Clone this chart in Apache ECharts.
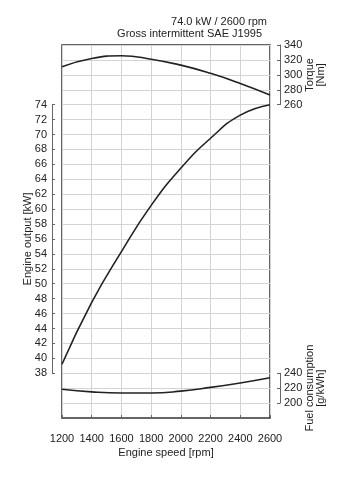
<!DOCTYPE html>
<html>
<head>
<meta charset="utf-8">
<script src="https://cdn.jsdelivr.net/npm/echarts@6/dist/echarts.min.js"></script>
<style>html,body{margin:0;padding:0;background:#fff;}#c{width:341px;height:478px;}</style>
</head>
<body>
<div id="c"></div>
<script>
var speeds = [1200, 1400, 1600, 1800, 2000, 2200, 2400, 2600];
var outputKW = [39.2, 47.5, 54.3, 60.5, 65.5, 69.5, 72.6, 74.0];
var torqueNm = [311, 322, 325.5, 321, 313, 302, 288.5, 273];
var fuelGkWh = [218.5, 215, 213.5, 213.5, 216, 221, 227, 234];
var titleLines = ['74.0 kW / 2600 rpm', 'Gross intermittent SAE J1995'];

var FONT = '"Liberation Sans", Arial, sans-serif';
var TXT = '#222';
var L = 62, T = 45, W = 208, H = 373;
var step = H / 25;

function pairs(vals) { return speeds.map(function (s, i) { return [s, vals[i]]; }); }
function hiddenX(gi) {
  return { type: 'value', gridIndex: gi, min: 1200, max: 2600, show: false };
}
function plain(v) { return String(v); }
var lineStyle = { color: '#222', width: 1.6 };

var option = {
  animation: false,
  backgroundColor: '#fff',
  textStyle: { fontFamily: FONT },
  graphic: [
    { type: 'text', right: 341 - 267, top: 16, style: { text: titleLines[0], font: '11px ' + FONT, fill: TXT, textAlign: 'right' } },
    { type: 'text', right: 341 - 262, top: 28, style: { text: titleLines[1], font: '11px ' + FONT, fill: TXT, textAlign: 'right' } }
  ],
  grid: [
    { left: L, top: T, width: W, height: H, show: true, borderColor: '#333', borderWidth: 1.5, backgroundColor: 'transparent' },
    { left: L, top: T + step * 4, width: W, height: step * 18 },
    { left: L, top: T, width: W, height: step * 4 },
    { left: L, top: T + step * 22, width: W, height: step * 2 }
  ],
  xAxis: [
    {
      type: 'value', gridIndex: 0, min: 1200, max: 2600, interval: 200, offset: 9,
      axisLine: { show: true, lineStyle: { color: '#666', width: 1 } },
      axisTick: { show: true, inside: true, length: 3, lineStyle: { color: '#666' } },
      axisLabel: { color: TXT, fontSize: 11, margin: 6, fontFamily: FONT, formatter: plain },
      splitLine: { show: true, lineStyle: { color: '#d4d4d4', width: 1 } },
      name: 'Engine speed [rpm]', nameLocation: 'middle', nameGap: 20, nameMoveOverlap: false,
      nameTextStyle: { color: TXT, fontSize: 11, fontFamily: FONT }
    },
    hiddenX(1), hiddenX(2), hiddenX(3)
  ],
  yAxis: [
    {
      type: 'value', gridIndex: 0, min: 0, max: 25, interval: 1,
      axisLine: { show: false }, axisTick: { show: false }, axisLabel: { show: false },
      splitLine: { show: true, lineStyle: { color: '#d4d4d4', width: 1 } }
    },
    {
      type: 'value', gridIndex: 1, min: 38, max: 74, interval: 2, position: 'left', offset: 10,
      axisLine: { show: true, lineStyle: { color: '#666', width: 1 } },
      axisTick: { show: true, inside: true, length: 3, lineStyle: { color: '#666' } },
      axisLabel: { color: TXT, fontSize: 11, margin: 5, fontFamily: FONT },
      splitLine: { show: false },
      name: 'Engine output [kW]', nameLocation: 'middle', nameGap: 19, nameMoveOverlap: false,
      nameTextStyle: { color: TXT, fontSize: 11, fontFamily: FONT }
    },
    {
      type: 'value', gridIndex: 2, min: 260, max: 340, interval: 20, position: 'right', offset: 10,
      axisLine: { show: true, lineStyle: { color: '#666', width: 1 } },
      axisTick: { show: true, inside: true, length: 3, lineStyle: { color: '#666' } },
      axisLabel: { color: TXT, fontSize: 11, margin: 4, fontFamily: FONT },
      splitLine: { show: false },
      name: 'Torque\n[Nm]', nameLocation: 'middle', nameGap: 24, nameRotate: 90, nameMoveOverlap: false,
      nameTextStyle: { color: TXT, fontSize: 11, lineHeight: 11, fontFamily: FONT }
    },
    {
      type: 'value', gridIndex: 3, min: 200, max: 240, interval: 20, position: 'right', offset: 10,
      axisLine: { show: true, lineStyle: { color: '#666', width: 1 } },
      axisTick: { show: true, inside: true, length: 3, lineStyle: { color: '#666' } },
      axisLabel: { color: TXT, fontSize: 11, margin: 4, fontFamily: FONT },
      splitLine: { show: false },
      name: 'Fuel consumption\n[g/kWh]', nameLocation: 'middle', nameGap: 24, nameRotate: 90, nameMoveOverlap: false,
      nameTextStyle: { color: TXT, fontSize: 11, lineHeight: 11, fontFamily: FONT }
    }
  ],
  series: [
    { type: 'line', xAxisIndex: 1, yAxisIndex: 1, data: pairs(outputKW), smooth: 0.5, showSymbol: false, symbol: 'none', lineStyle: lineStyle, clip: false },
    { type: 'line', xAxisIndex: 2, yAxisIndex: 2, data: pairs(torqueNm), smooth: 0.5, showSymbol: false, symbol: 'none', lineStyle: lineStyle, clip: false },
    { type: 'line', xAxisIndex: 3, yAxisIndex: 3, data: pairs(fuelGkWh), smooth: 0.5, showSymbol: false, symbol: 'none', lineStyle: lineStyle, clip: false }
  ]
};
var chart = echarts.init(document.getElementById('c'), null, { renderer: 'canvas' });
chart.setOption(option);
</script>
</body>
</html>
